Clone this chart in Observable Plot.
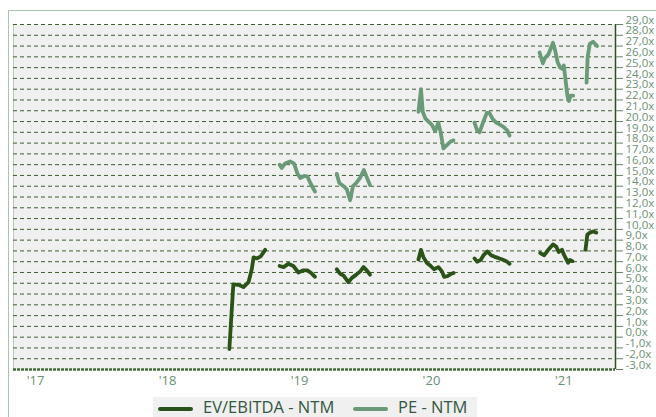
<!DOCTYPE html>
<html>
<head>
<meta charset="utf-8">
<script src="https://cdn.jsdelivr.net/npm/d3@7"></script>
<script src="https://cdn.jsdelivr.net/npm/@observablehq/plot@0.6"></script>
<style>
  html, body { margin: 0; padding: 0; background: #fff; }
  #wrap { position: relative; width: 656px; height: 417px; overflow: hidden; }
  #frame { position: absolute; left: 8px; top: 10px; width: 660px; height: 420px;
           border-left: 1px solid #a9c3ae; border-top: 1px solid #a9c3ae; pointer-events: none; }
  #chart svg { display: block; }
  #legend { position: absolute; left: 153px; top: 397px; width: 324px; height: 22px; background: #f0f0f0;
            font-family: "Open Sans", sans-serif; font-size: 16.5px; color: #33573f; }
  .sw { position: absolute; top: 10px; width: 35px; height: 4px; border-radius: 2px; }
  .lt { position: absolute; top: -1px; line-height: 22px; white-space: nowrap; }
</style>
</head>
<body>
<div id="wrap">
  <div id="frame"></div>
  <div id="chart"></div>
  <div id="legend">
    <div class="sw" style="left:5px;background:#2b5219"></div>
    <div class="lt" style="left:50px">EV/EBITDA - NTM</div>
    <div class="sw" style="left:200px;background:#6a9a78"></div>
    <div class="lt" style="left:245px">PE - NTM</div>
  </div>
</div>
<script>
// series: [date, value, segment]
const evebitda = [
  ["2018-06-21", -1.1, 1], ["2018-07-02", 4.9, 1], ["2018-07-16", 4.85, 1], ["2018-07-30", 4.65, 1],
  ["2018-08-13", 5.1, 1], ["2018-08-22", 6.3, 1], ["2018-08-27", 7.4, 1], ["2018-09-05", 7.3, 1],
  ["2018-09-16", 7.5, 1], ["2018-09-28", 8.1, 1],
  ["2018-11-07", 6.6, 2], ["2018-11-18", 6.5, 2], ["2018-12-01", 6.8, 2], ["2018-12-15", 6.6, 2],
  ["2018-12-29", 6.0, 2], ["2019-01-12", 6.2, 2], ["2019-01-23", 6.2, 2], ["2019-02-04", 5.9, 2],
  ["2019-02-13", 5.6, 2],
  ["2019-04-14", 6.3, 3], ["2019-04-23", 5.9, 3], ["2019-05-03", 5.7, 3], ["2019-05-16", 5.1, 3],
  ["2019-05-26", 5.5, 3], ["2019-06-07", 5.8, 3], ["2019-06-18", 6.1, 3], ["2019-06-27", 6.5, 3],
  ["2019-07-06", 6.2, 3], ["2019-07-15", 5.8, 3],
  ["2019-11-26", 7.2, 4], ["2019-12-03", 8.1, 4], ["2019-12-10", 7.4, 4], ["2019-12-19", 6.9, 4],
  ["2019-12-30", 6.6, 4], ["2020-01-08", 6.3, 4], ["2020-01-20", 6.5, 4], ["2020-01-30", 6.1, 4],
  ["2020-02-05", 5.6, 4], ["2020-02-14", 5.65, 4], ["2020-02-23", 5.85, 4], ["2020-03-02", 5.95, 4],
  ["2020-04-29", 7.3, 5], ["2020-05-06", 7.0, 5], ["2020-05-16", 7.15, 5], ["2020-05-24", 7.6, 5],
  ["2020-06-04", 7.95, 5], ["2020-06-14", 7.6, 5], ["2020-06-24", 7.45, 5], ["2020-07-03", 7.35, 5],
  ["2020-07-15", 7.2, 5], ["2020-07-26", 7.05, 5], ["2020-08-04", 6.8, 5],
  ["2020-10-28", 7.8, 6], ["2020-11-08", 7.6, 6], ["2020-11-19", 8.1, 6], ["2020-12-02", 8.6, 6],
  ["2020-12-11", 8.4, 6], ["2020-12-18", 7.9, 6], ["2020-12-27", 8.1, 6], ["2021-01-02", 7.6, 6],
  ["2021-01-13", 6.9, 6], ["2021-01-18", 7.15, 6], ["2021-01-25", 7.05, 6],
  ["2021-03-02", 8.1, 7], ["2021-03-07", 9.5, 7], ["2021-03-14", 9.7, 7], ["2021-03-23", 9.8, 7],
  ["2021-04-01", 9.7, 7]
];
const peNtm = [
  ["2018-11-07", 16.0, 2], ["2018-11-13", 15.7, 2], ["2018-11-22", 16.1, 2], ["2018-12-06", 16.3, 2],
  ["2018-12-17", 16.1, 2], ["2018-12-26", 15.2, 2], ["2019-01-03", 14.75, 2], ["2019-01-14", 14.95, 2],
  ["2019-01-23", 14.9, 2], ["2019-01-31", 14.3, 2], ["2019-02-13", 13.5, 2],
  ["2019-04-14", 15.15, 3], ["2019-04-21", 14.3, 3], ["2019-05-03", 14.0, 3], ["2019-05-12", 13.7, 3],
  ["2019-05-21", 12.7, 3], ["2019-05-29", 14.0, 3], ["2019-06-07", 14.3, 3], ["2019-06-18", 14.8, 3],
  ["2019-06-28", 15.5, 3], ["2019-07-07", 14.75, 3], ["2019-07-15", 14.1, 3],
  ["2019-11-26", 20.9, 4], ["2019-12-03", 23.0, 4], ["2019-12-08", 20.9, 4], ["2019-12-15", 20.3, 4],
  ["2019-12-24", 20.0, 4], ["2020-01-02", 19.7, 4], ["2020-01-11", 19.1, 4], ["2020-01-20", 19.9, 4],
  ["2020-01-27", 18.9, 4], ["2020-02-03", 17.5, 4], ["2020-02-14", 17.85, 4], ["2020-02-23", 18.15, 4],
  ["2020-03-02", 18.25, 4],
  ["2020-04-29", 19.9, 5], ["2020-05-06", 19.2, 5], ["2020-05-13", 19.0, 5], ["2020-05-22", 19.85, 5],
  ["2020-06-02", 20.8, 5], ["2020-06-09", 20.8, 5], ["2020-06-19", 20.2, 5], ["2020-06-28", 19.9, 5],
  ["2020-07-09", 19.7, 5], ["2020-07-18", 19.5, 5], ["2020-07-28", 19.2, 5], ["2020-08-04", 18.7, 5],
  ["2020-10-26", 26.4, 6], ["2020-11-04", 25.4, 6], ["2020-11-10", 25.9, 6], ["2020-11-19", 26.2, 6],
  ["2020-12-02", 27.3, 6], ["2020-12-08", 26.6, 6], ["2020-12-15", 25.5, 6], ["2020-12-22", 25.0, 6],
  ["2020-12-27", 24.9, 6], ["2021-01-01", 25.2, 6], ["2021-01-06", 23.8, 6], ["2021-01-11", 22.4, 6],
  ["2021-01-15", 21.9, 6], ["2021-01-20", 22.4, 6], ["2021-01-27", 22.4, 6],
  ["2021-03-05", 23.6, 7], ["2021-03-08", 26.0, 7], ["2021-03-14", 27.2, 7], ["2021-03-23", 27.4, 7],
  ["2021-04-03", 27.0, 7]
];
const yTicks = d3.range(-3, 30);            // -3,0x .. 29,0x
const xTickYears = ["2017-01-01", "2018-01-01", "2019-01-01", "2020-01-01", "2021-01-01"];
const xDomain = ["2016-11-01", "2021-05-24"];

const toRows = (arr) => arr.map(([d, v, s]) => ({date: new Date(d), value: v, seg: s}));
const ev = toRows(evebitda);
const pe = toRows(peNtm);
const xTicks = xTickYears.map(d => new Date(d));
const fmtY = d => d.toFixed(1).replace(".", ",") + "x";
const fmtX = d => "'" + String(d.getUTCFullYear()).slice(2);

const gridColor = "#3d5f30";
const labelColor = "#6b8f72";

const chart = Plot.plot({
  width: 656,
  height: 396,
  marginLeft: 13,
  marginRight: 41,
  marginTop: 24,
  marginBottom: 27,
  style: {background: "transparent", fontFamily: "Open Sans, sans-serif", fontSize: "12px"},
  x: {type: "utc", domain: xDomain.map(d => new Date(d))},
  y: {domain: [-3, 29]},
  marks: [
    Plot.frame({fill: "#f0f0f0"}),
    Plot.ruleX([new Date(xDomain[0])], {stroke: "#c4c4c4", strokeWidth: 1}),
    Plot.ruleY(yTicks.filter(d => d > -3), {stroke: gridColor, strokeWidth: 1, strokeDasharray: "4,3"}),
    Plot.ruleY([-3], {stroke: "#44693a", strokeWidth: 2.5, strokeDasharray: "3,1"}),
    Plot.ruleX([new Date(xDomain[1])], {stroke: "#2e4f1f", strokeWidth: 1.5}),
    Plot.axisY(yTicks, {anchor: "right", tickSize: 7, stroke: "#6a7d66", fill: "none", label: null}),
    Plot.axisY(yTicks, {anchor: "right", tickSize: 0, tickPadding: 10, dy: -4.5, fill: labelColor,
                        tickFormat: fmtY, fontSize: 11.5, label: null}),
    Plot.axisX(xTicks, {anchor: "bottom", tickSize: 0, tickPadding: 6, fill: labelColor,
                        tickFormat: fmtX, fontSize: 13, label: null}),
    Plot.line(ev, {x: "date", y: "value", z: "seg", stroke: "#2b5219", strokeWidth: 3.8,
                   strokeLinejoin: "round", strokeLinecap: "round"}),
    Plot.line(pe, {x: "date", y: "value", z: "seg", stroke: "#6a9a78", strokeWidth: 3.8,
                   strokeLinejoin: "round", strokeLinecap: "round"})
  ]
});
document.getElementById("chart").appendChild(chart);
</script>
</body>
</html>
